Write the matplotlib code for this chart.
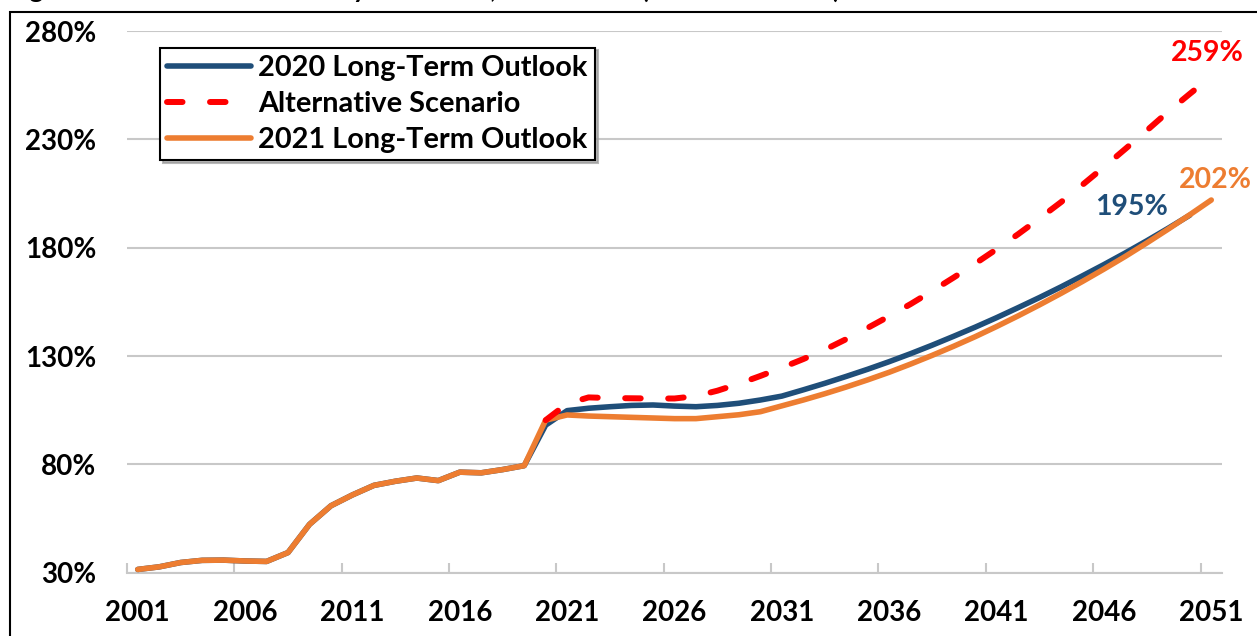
import matplotlib
matplotlib.use("Agg")
import matplotlib.pyplot as plt
from matplotlib.patches import Rectangle
from matplotlib.ticker import FixedLocator, FuncFormatter

plt.rcParams['font.family'] = ['Lato', 'DejaVu Sans']
plt.rcParams['font.weight'] = 'bold'

# ---------------- data ----------------
hist_years = list(range(2001, 2020))
hist_debt = [31.5, 32.7, 34.7, 35.7, 35.8, 35.4, 35.2, 39.3, 52.3, 60.9,
             65.9, 70.3, 72.2, 73.7, 72.5, 76.4, 76.1, 77.6, 79.4]

lto2020_years = list(range(2020, 2051))
lto2020_debt = [98.1, 104.8, 105.9, 106.6, 107.2, 107.4, 106.9, 106.6, 107.2, 108.2,
                109.7, 111.5, 114.4, 117.4, 120.6, 123.9, 127.4, 131.1, 135.0, 139.1,
                143.3, 147.7, 152.3, 157.0, 161.9, 167.0, 172.2, 177.6, 183.2, 189.0,
                195.0]

lto2021_years = list(range(2020, 2052))
lto2021_debt = [100.4, 102.8, 102.3, 102.0, 101.7, 101.4, 101.1, 101.1, 102.0, 102.9,
                104.3, 107.0, 109.7, 112.6, 115.7, 119.0, 122.5, 126.3, 130.3, 134.5,
                138.9, 143.6, 148.5, 153.6, 158.9, 164.4, 170.1, 176.0, 182.2, 188.6,
                195.2, 202.0]

alt_years = list(range(2020, 2052))
alt_debt = [100.4, 108.0, 110.9, 110.6, 110.5, 110.4, 110.4, 111.5, 114.0, 117.2,
            120.8, 124.6, 128.6, 132.9, 137.8, 143.0, 148.4, 154.0, 160.0, 166.2,
            172.6, 179.3, 186.2, 193.5, 201.0, 209.0, 217.2, 225.6, 234.1, 242.8,
            251.0, 259.0]

series_names = ["2020 Long-Term Outlook", "Alternative Scenario", "2021 Long-Term Outlook"]
end_labels = ["195%", "259%", "202%"]
x_tick_years = list(range(2001, 2052, 5))
y_ticks = [30, 80, 130, 180, 230, 280]
title_text = "Figure 1. Federal Debt Held by the Public, 2001-2051 (Percent of GDP)"

BLUE = "#1F4E79"
RED = "#FF0000"
ORANGE = "#ED7D31"
GRID = "#C8C8C8"

# ---------------- figure ----------------
W, H = 1257, 636
fig = plt.figure(figsize=(W / 100, H / 100), dpi=100)
fig.patch.set_facecolor("white")

left, right, bottom_px, top_px = 127, 1222, 572.7, 31
ax = fig.add_axes([left / W, 1 - bottom_px / H, (right - left) / W, (bottom_px - top_px) / H])

ax.plot(hist_years + lto2020_years, hist_debt + lto2020_debt, color=BLUE, lw=4.0,
        solid_capstyle='round', solid_joinstyle='round', label=series_names[0], zorder=3)
ax.plot(hist_years + lto2021_years, hist_debt + lto2021_debt, color=ORANGE, lw=4.0,
        solid_capstyle='round', solid_joinstyle='round', label=series_names[2], zorder=4)
ax.plot(alt_years, alt_debt, color=RED, lw=4.3, ls=(0, (2.6, 4.6)),
        dash_capstyle='round', label=series_names[1], zorder=5)

ax.set_xlim(2000.5, 2051.5)
ax.set_ylim(30, 280)

ax.yaxis.set_major_locator(FixedLocator(y_ticks))
ax.yaxis.set_major_formatter(FuncFormatter(lambda v, p: f"{int(v)}%"))
ax.xaxis.set_major_locator(FixedLocator(x_tick_years))
ax.xaxis.set_minor_locator(FixedLocator([y - 0.5 for y in x_tick_years]))

ax.tick_params(axis='y', length=0, pad=22, labelsize=20, labelcolor='black')
ax.tick_params(axis='x', which='major', length=0, pad=20, labelsize=20, labelcolor='black')
ax.tick_params(axis='x', which='minor', direction='in', length=7, width=1.5, color=GRID)
for lab in ax.get_xticklabels() + ax.get_yticklabels():
    lab.set_fontweight('bold')

ax.grid(axis='y', color=GRID, lw=1.5, zorder=0)
ax.set_axisbelow(True)
for s in ['left', 'right', 'top']:
    ax.spines[s].set_visible(False)
ax.spines['bottom'].set_color(GRID)
ax.spines['bottom'].set_linewidth(1.5)

# end-of-line labels
ax.text(2047.3, 198.8, end_labels[0], color=BLUE, fontsize=20.5, fontweight='bold',
        ha='center', va='center')
ax.text(2050.8, 269.8, end_labels[1], color=RED, fontsize=20.5, fontweight='bold',
        ha='center', va='center')
ax.text(2051.2, 211.2, end_labels[2], color=ORANGE, fontsize=20.5, fontweight='bold',
        ha='center', va='center')

# legend
handles, labels = ax.get_legend_handles_labels()
order = [0, 2, 1]
leg = ax.legend([handles[i] for i in order], [labels[i] for i in order],
                loc='upper left', bbox_to_anchor=(160 / W, 1 - 47.7 / H),
                bbox_transform=fig.transFigure, borderaxespad=0,
                prop={'weight': 'bold', 'size': 20.8},
                handlelength=2.9, handletextpad=0.25, labelspacing=0.35,
                borderpad=0.25, fancybox=False, framealpha=1,
                shadow={'color': '#9a9a9a', 'alpha': 0.7})
leg.get_frame().set_edgecolor('black')
leg.get_frame().set_linewidth(1.5)
leg.set_zorder(10)

# outer frame and (mostly clipped) title at the very top edge
fig.patches.append(Rectangle((10 / W, -0.1), 1.2, 1.1 - 12 / H, transform=fig.transFigure,
                             fill=False, edgecolor='black', lw=1.5, figure=fig))
fig.text(8 / W, 1 + 2.5 / H, title_text, fontsize=19, fontweight='bold',
         ha='left', va='baseline', color='black')

fig.savefig("out.png", dpi=100)
